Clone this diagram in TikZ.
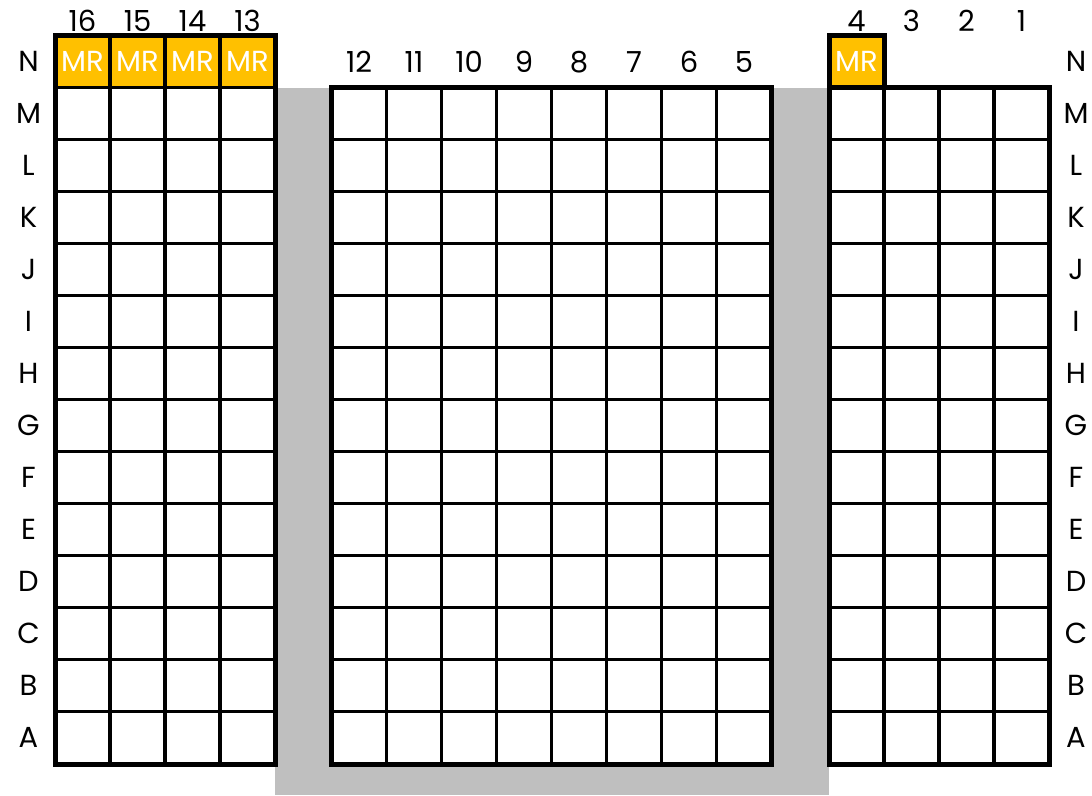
\documentclass[tikz,border=0pt]{standalone}
\usepackage{fontspec}
\setmainfont{Poppins}
\definecolor{mrorange}{HTML}{FFC000}
\definecolor{aisle}{HTML}{BFBFBF}
\tikzset{
  outerline/.style={line width=5pt, line join=miter},
  innerline/.style={line width=3.2pt},
  lbl/.style={font=\fontsize{29}{29}\selectfont, text=black, inner sep=0pt},
  mrtext/.style={font=\fontsize{29}{29}\selectfont, text=white, inner sep=0pt},
}
\begin{document}
\begin{tikzpicture}[x=1pt,y=-1pt]
\useasboundingbox (0,0) rectangle (1092,795);
% aisle
\fill[aisle] (275,87.5) rectangle (829,795);
% white blocks
\fill[white] (55,87.5) rectangle (275,764);
\fill[white] (331.5,87.5) rectangle (771.5,764);
\fill[white] (829,87.5) rectangle (1049,764);
% MR cells
\fill[mrorange] (55,35.5) rectangle (275,87.5);
\fill[mrorange] (829,35.5) rectangle (884,87.5);
% left block grid
\foreach \i in {1,2,3} \draw[innerline] (55+55*\i,35.5) -- (55+55*\i,764);
\foreach \j in {1,...,13} \draw[innerline] (55,35.5+52*\j) -- (275,35.5+52*\j);
\draw[outerline] (55,35.5) rectangle (275,764);
% middle block grid
\foreach \i in {1,...,7} \draw[innerline] (331.5+55*\i,87.5) -- (331.5+55*\i,764);
\foreach \j in {1,...,12} \draw[innerline] (331.5,87.5+52*\j) -- (771.5,87.5+52*\j);
\draw[outerline] (331.5,87.5) rectangle (771.5,764);
% right block grid
\foreach \i in {1,2,3} \draw[innerline] (829+55*\i,87.5) -- (829+55*\i,764);
\foreach \j in {1,...,12} \draw[innerline] (829,87.5+52*\j) -- (1049,87.5+52*\j);
\draw[outerline] (829,87.5) rectangle (1049,764);
\draw[outerline] (829,87.5) -- (829,35.5) -- (884,35.5) -- (884,87.5);
% MR labels
\foreach \c [count=\k from 0] in {16,15,14,13}
  \node[mrtext] (mr\c) at (82.5+55*\k,61.5) {MR};
\node[mrtext] (mr4) at (856.5,61.5) {MR};
% column labels
\foreach \c [count=\k from 0] in {16,15,14,13}
  \node[lbl] (col\c) at (82.5+55*\k,21) {\c};
\foreach \c [count=\k from 0] in {12,11,10,9,8,7,6,5}
  \node[lbl] (col\c) at (359+55*\k,62) {\c};
\foreach \c [count=\k from 0] in {4,3,2,1}
  \node[lbl] (col\c) at (856.5+55*\k,21) {\c};
% row labels
\foreach \r [count=\k from 0] in {N,M,L,K,J,I,H,G,F,E,D,C,B,A} {
  \node[lbl] (rowL\r) at (28.5,61.5+52*\k) {\r};
  \node[lbl] (rowR\r) at (1076,61.5+52*\k) {\r};
}
\end{tikzpicture}
\end{document}
